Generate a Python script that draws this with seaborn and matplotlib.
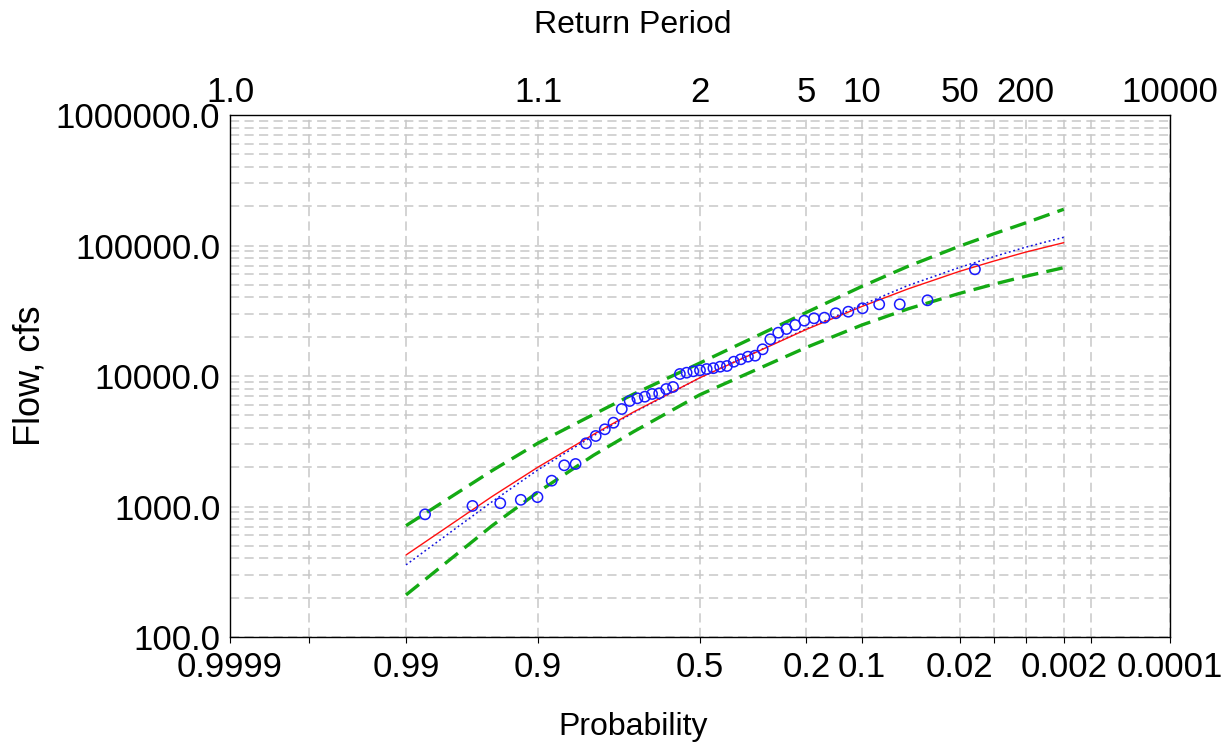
import numpy as np
import pandas as pd
import matplotlib
matplotlib.use("Agg")
import matplotlib.pyplot as plt
import seaborn as sns
from matplotlib import font_manager
from matplotlib.ticker import FixedLocator, LogLocator, NullFormatter
from statistics import NormalDist

# ---------------- data ----------------
# observed annual peaks, plotted left -> right (exceedance probability decreasing)
obs_prob = [0.9852, 0.9641, 0.9430, 0.9219, 0.9008, 0.8797, 0.8586, 0.8376,
            0.8165, 0.7954, 0.7743, 0.7532, 0.7321, 0.7110, 0.6899, 0.6688,
            0.6477, 0.6266, 0.6055, 0.5844, 0.5633, 0.5422, 0.5211, 0.5000,
            0.4789, 0.4578, 0.4367, 0.4156, 0.3945, 0.3734, 0.3523, 0.3312,
            0.3101, 0.2890, 0.2679, 0.2468, 0.2257, 0.2046, 0.1835, 0.1624,
            0.1414, 0.1203, 0.0992, 0.0781, 0.0570, 0.0359, 0.0148]
obs_flow = [871, 1010, 1060, 1125, 1180, 1577, 2069, 2117, 3050, 3470,
            3905, 4388, 5585, 6434, 6750, 6940, 7280, 7370, 7950, 8236,
            10360, 10600, 10870, 11060, 11310, 11480, 11785, 11930, 12870, 13430,
            14060, 14310, 16020, 19110, 21470, 22910, 24600, 26540, 27680, 27980,
            30240, 31100, 33030, 35430, 35430, 38020, 65700]

curve_prob = [0.99, 0.95, 0.9, 0.8, 0.7, 0.5, 0.2, 0.1, 0.05, 0.02, 0.01, 0.005, 0.002]
computed   = [425, 1194, 2004, 3573, 5309, 9705, 22750, 34120, 46450, 63390, 76030, 88920, 105100]
expected   = [357, 1089, 1914, 3491, 5248, 9705, 23010, 35080, 49320, 67920, 82220, 97050, 115600]
upper_5    = [713, 1884, 3062, 5082, 7278, 12590, 30690, 48640, 69180, 98860, 123000, 148900, 189500]
lower_95   = [210, 713, 1291, 2472, 3750, 7194, 16560, 24600, 32660, 42950, 50580, 58070, 67610]

grid_prob = [0.9999, 0.999, 0.99, 0.9, 0.5, 0.2, 0.1, 0.02, 0.01, 0.005, 0.002, 0.001, 0.0001]
bottom_labels = {0.9999: "0.9999", 0.99: "0.99", 0.9: "0.9", 0.5: "0.5", 0.2: "0.2",
                 0.1: "0.1", 0.02: "0.02", 0.002: "0.002", 0.0001: "0.0001"}
top_prob = [0.9999, 0.9, 0.5, 0.2, 0.1, 0.02, 0.005, 0.0001]
top_labels = ["1.0", "1.1", "2", "5", "10", "50", "200", "10000"]
y_ticks = [100, 1000, 10000, 100000, 1000000]

# ---------------- fonts ----------------
def pick(names):
    for n in names:
        try:
            font_manager.findfont(n, fallback_to_default=False)
            return n
        except Exception:
            pass
    return "DejaVu Sans"

font = pick(["Liberation Sans", "Arial"])

sns.set_style("white")
plt.rcParams["font.family"] = [font, "DejaVu Sans"]
plt.rcParams["text.color"] = "black"
plt.rcParams["axes.labelcolor"] = "black"
plt.rcParams["xtick.color"] = "black"
plt.rcParams["ytick.color"] = "black"

# ---------------- normal probability scale ----------------
_nd = NormalDist()

def fwd(p):
    p = np.clip(np.asarray(p, dtype=float), 1e-12, 1 - 1e-12)
    return np.array([_nd.inv_cdf(v) for v in p.ravel()]).reshape(p.shape)

def inv(z):
    z = np.asarray(z, dtype=float)
    return np.array([_nd.cdf(v) for v in z.ravel()]).reshape(z.shape)

fig = plt.figure(figsize=(12.27, 7.5), dpi=100)
ax = fig.add_axes([230 / 1227, 1 - 637 / 750, 940 / 1227, 522 / 750])
ax.set_xscale("function", functions=(fwd, inv))
ax.set_yscale("log")

df_obs = pd.DataFrame({"p": obs_prob, "q": obs_flow})
df_c = pd.DataFrame({"p": curve_prob, "computed": computed, "expected": expected,
                     "upper": upper_5, "lower": lower_95})

green = "#14aa14"
sns.lineplot(data=df_c, x="p", y="upper", ax=ax, color=green, lw=2.4,
             sort=False, estimator=None)
sns.lineplot(data=df_c, x="p", y="lower", ax=ax, color=green, lw=2.4,
             sort=False, estimator=None)
sns.lineplot(data=df_c, x="p", y="expected", ax=ax, color="#1010dd", lw=1.1,
             sort=False, estimator=None)
sns.lineplot(data=df_c, x="p", y="computed", ax=ax, color="#ff1010", lw=1.0,
             sort=False, estimator=None)
for ln in ax.lines[:2]:
    ln.set_linestyle((0, (5, 2.5)))
ax.lines[2].set_linestyle((0, (1.2, 1.8)))

sns.scatterplot(data=df_obs, x="p", y="q", ax=ax, marker="o", s=55,
                facecolor="none", edgecolor="#1a1aff", linewidth=1.1, zorder=5)

ax.set_xlim(0.9999, 0.0001)
ax.set_ylim(100, 1000000)

# grid
ax.xaxis.set_major_locator(FixedLocator(grid_prob))
ax.set_xticklabels([bottom_labels.get(p, "") for p in grid_prob])
ax.xaxis.set_minor_locator(FixedLocator([]))
ax.yaxis.set_major_locator(FixedLocator(y_ticks))
ax.set_yticklabels([f"{v:.1f}" for v in y_ticks])
ax.yaxis.set_minor_locator(LogLocator(base=10, subs=range(2, 10), numticks=50))
ax.yaxis.set_minor_formatter(NullFormatter())
gridkw = dict(color="#c8c8c8", linestyle=(0, (6, 3.5)), linewidth=1.1)
ax.grid(True, which="major", axis="x", **gridkw)
ax.grid(True, which="both", axis="y", **gridkw)
ax.set_axisbelow(True)

ax.tick_params(axis="x", which="major", direction="out", length=4, width=0.8,
               labelsize=25, pad=6)
ax.tick_params(axis="y", which="major", direction="out", length=4, width=0.8,
               labelsize=25, pad=3)
ax.tick_params(axis="y", which="minor", length=0)

for s in ax.spines.values():
    s.set_color("black")
    s.set_linewidth(1.0)

ax.set_xlabel("Probability", fontsize=23, va="center")
ax.xaxis.set_label_coords((633 - 230) / 940, (637 - 727) / 522)
ax.set_ylabel("Flow, cfs", fontsize=26, va="center")
ax.yaxis.set_label_coords((30 - 230) / 940, (637 - 376) / 522)

# top axis: return period
ax2 = ax.twiny()
ax2.set_xscale("function", functions=(fwd, inv))
ax2.set_xlim(0.9999, 0.0001)
ax2.xaxis.set_major_locator(FixedLocator(top_prob))
ax2.set_xticklabels(top_labels)
ax2.xaxis.set_minor_locator(FixedLocator([]))
ax2.tick_params(axis="x", length=0, labelsize=25, pad=4)
ax2.set_xlabel("Return Period", fontsize=23, va="center")
ax2.xaxis.set_label_coords((633 - 230) / 940, (637 - 25) / 522)
for s in ax2.spines.values():
    s.set_visible(False)

fig.savefig("out.png", dpi=100)
